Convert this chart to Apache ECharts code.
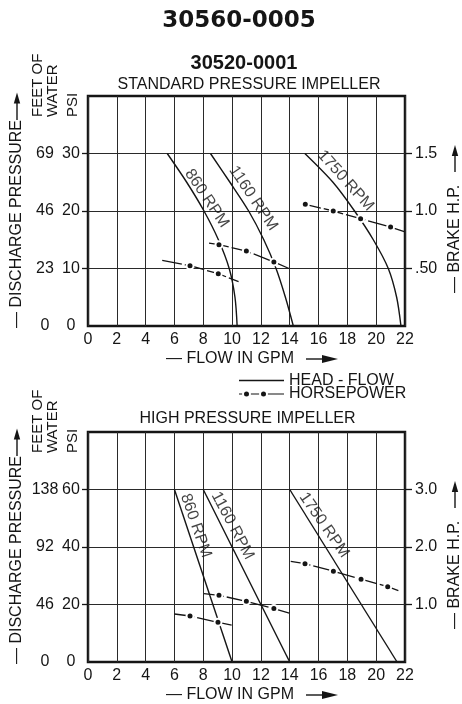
<!DOCTYPE html>
<html>
<head>
<meta charset="utf-8">
<script src="https://cdn.jsdelivr.net/npm/echarts@6/dist/echarts.min.js"></script>
<style>
html,body{margin:0;padding:0;background:#fff;}
#c{width:462px;height:704px;}
</style>
</head>
<body>
<div id="c"></div>
<script>
// ---------- DATA ----------
// Standard pressure impeller (top chart): head-flow curves [GPM, PSI]
const stdHead860  = [[5.5,30],[6.85,25],[8.05,20],[9.05,15],[9.8,10],[10.2,5],[10.35,0]];
const stdHead1160 = [[8.5,30],[9.85,25],[11.15,20],[12.2,15],[13.05,10],[13.7,5],[14.25,0]];
const stdHead1750 = [[15.05,30],[17.0,25],[18.5,20],[19.8,15],[20.84,10],[21.42,5],[21.72,0]];
// horsepower curves [GPM, BHP] (first/last = line ends, middle = dots)
const stdHp860  = [[5.15,0.57],[7.08,0.524],[9.04,0.455],[10.45,0.385]];
const stdHp1160 = [[8.4,0.72],[9.09,0.707],[10.99,0.652],[12.9,0.557],[13.95,0.50]];
const stdHp1750 = [[14.8,1.06],[15.08,1.058],[17.02,1.0],[18.92,0.933],[21.0,0.86],[21.95,0.82]];

// High pressure impeller (bottom chart)
const hiHead860  = [[6.0,60],[10.0,0]];
const hiHead1160 = [[8.0,60],[14.0,0]];
const hiHead1750 = [[14.0,60],[21.45,0]];
const hiHp860  = [[6.0,0.835],[7.08,0.80],[9.02,0.69],[9.97,0.64]];
const hiHp1160 = [[8.05,1.19],[9.09,1.16],[10.99,1.055],[12.9,0.93],[13.97,0.85]];
const hiHp1750 = [[14.07,1.75],[15.06,1.71],[17.03,1.58],[18.95,1.44],[20.8,1.31],[21.54,1.24]];

const rpmNames = ['860 RPM','1160 RPM','1750 RPM'];
const stdRpmLabelAt = [[8.24,22.2],[11.47,22.2],[17.88,25.3]];
const hiRpmLabelAt  = [[7.48,47.4],[10.03,47.4],[16.39,47.6]];

// tick labels
const stdPsiTicks = [0,10,20,30];
const stdFeetLabels = ['0','23','46','69'];
const stdHpTicks = [0.5,1,1.5];
const stdHpLabels = ['.50','1.0','1.5'];
const hiPsiTicks = [0,20,40,60];
const hiFeetLabels = ['0','46','92','138'];
const hiHpTicks = [1,2,3];
const hiHpLabels = ['1.0','2.0','3.0'];

// ---------- STYLE ----------
const FONT = "'Liberation Sans', Arial, sans-serif";
const INK = '#151515';
const GRIDC = '#2a2a2a';

function headSeries(data, gi, smooth){
  return {type:'line', xAxisIndex:gi, yAxisIndex:gi*3, data:data, showSymbol:false,
    smooth:smooth, silent:true, lineStyle:{color:INK,width:1.4}, z:3};
}
function hpSeries(data, gi){
  const last = data.length-1;
  return {type:'line', xAxisIndex:gi, yAxisIndex:gi*3+2,
    data:data.map((p,i)=> (i===0||i===last) ? {value:p, symbol:'none'} : {value:p}),
    symbol:'circle', symbolSize:7, showSymbol:true, showAllSymbol:true, silent:true,
    itemStyle:{color:INK, borderColor:'#fff', borderWidth:2},
    lineStyle:{color:INK,width:1.3,type:[20,3]}, z:5};
}
function labelSeries(pos, angles, gi){
  return {type:'scatter', xAxisIndex:gi, yAxisIndex:gi*3, symbolSize:1, silent:true,
    itemStyle:{color:'rgba(0,0,0,0)'}, z:6,
    data: pos.map((p,i)=>({value:p, name:rpmNames[i],
      label:{show:true, position:'inside', rotate:angles[i], formatter:rpmNames[i],
        fontSize:16, fontFamily:FONT, color:INK}}))};
}

function xAxisCfg(gi){
  return {type:'value', gridIndex:gi, min:0, max:22, interval:2,
    axisLine:{show:false}, axisTick:{show:false},
    axisLabel:{fontSize:16, fontFamily:FONT, color:INK, margin:6},
    splitLine:{show:true, lineStyle:{color:GRIDC, width:1}}};
}
function psiAxis(gi, max, interval, ticks){
  return {type:'value', gridIndex:gi, position:'left', min:0, max:max, interval:interval,
    axisLine:{show:false},
    axisTick:{show:true, customValues:ticks.filter(v=>v>0), length:6, lineStyle:{color:INK,width:1.3}},
    axisLabel:{customValues:ticks, fontSize:16, fontFamily:FONT, color:INK, margin:17, align:'center'},
    splitLine:{show:true, lineStyle:{color:GRIDC, width:1}}};
}
function feetAxis(gi, max, ticks, labels){
  return {type:'value', gridIndex:gi, position:'left', min:0, max:max,
    axisLine:{show:false}, axisTick:{show:false}, splitLine:{show:false},
    axisLabel:{customValues:ticks, formatter:v=>labels[ticks.indexOf(v)],
      fontSize:16, fontFamily:FONT, color:INK, margin:43, align:'center'}};
}
function hpAxis(gi, max, ticks, labels){
  return {type:'value', gridIndex:gi, position:'right', min:0, max:max,
    axisLine:{show:false}, splitLine:{show:false},
    axisTick:{show:true, customValues:ticks, length:7, lineStyle:{color:INK,width:1.3}},
    axisLabel:{customValues:ticks, formatter:v=>labels[ticks.indexOf(v)],
      fontSize:16, fontFamily:FONT, color:INK, margin:10}};
}

function vText(x, y, text, size){
  return {type:'text', x:x, y:y, rotation:Math.PI/2,
    style:{text:text, fontSize:size, fontFamily:FONT, fill:INK, textAlign:'left', textVerticalAlign:'middle', lineHeight:15}};
}
function arrowUp(x, yTip, yBase){
  return [
    {type:'line', shape:{x1:x,y1:yBase,x2:x,y2:yTip+6}, style:{stroke:INK,lineWidth:1.4}},
    {type:'polygon', shape:{points:[[x,yTip],[x-3.2,yTip+11],[x+3.2,yTip+11]]}, style:{fill:INK}}
  ];
}
function arrowRight(xBase, xTip, y){
  return [
    {type:'line', shape:{x1:xBase,y1:y,x2:xTip-6,y2:y}, style:{stroke:INK,lineWidth:1.4}},
    {type:'polygon', shape:{points:[[xTip,y],[xTip-16,y-4],[xTip-16,y+4]]}, style:{fill:INK}}
  ];
}
function chartDecor(dy){
  const g = [];
  g.push(vText(17, 328+dy, '\u2014 DISCHARGE PRESSURE', 16));
  g.push(...arrowUp(17, 92.5+dy, 120+dy));
  g.push(vText(45, 117+dy, 'FEET OF\nWATER', 15));
  g.push(vText(72.5, 117+dy, 'PSI', 15));
  g.push(vText(455, 293+dy, '\u2014 BRAKE H.P.', 16));
  g.push(...arrowUp(455, 145+dy, 172+dy));
  g.push({type:'text', x:166, y:359+dy, style:{text:'\u2014 FLOW IN GPM', fontSize:16, fontFamily:FONT, fill:INK, textAlign:'left', textVerticalAlign:'middle'}});
  g.push(...arrowRight(306, 338, 359+dy));
  return g;
}

const graphics = [
  {type:'text', x:239, y:21, style:{text:'30560-0005', fontSize:23, fontWeight:'bold', fontFamily:"'DejaVu Sans', sans-serif", fill:INK, textAlign:'center', textVerticalAlign:'middle'}},
  {type:'text', x:244, y:63, style:{text:'30520-0001', fontSize:20, fontWeight:'bold', fontFamily:FONT, fill:INK, textAlign:'center', textVerticalAlign:'middle'}},
  {type:'text', x:249, y:85, style:{text:'STANDARD PRESSURE IMPELLER', fontSize:16, fontFamily:FONT, fill:INK, textAlign:'center', textVerticalAlign:'middle'}},
  {type:'text', x:247.5, y:418.5, style:{text:'HIGH PRESSURE IMPELLER', fontSize:16, fontFamily:FONT, fill:INK, textAlign:'center', textVerticalAlign:'middle'}},
  // legend
  {type:'line', shape:{x1:239,y1:380.5,x2:284,y2:380.5}, style:{stroke:INK,lineWidth:1.3}},
  {type:'text', x:289, y:380.5, style:{text:'HEAD - FLOW', fontSize:16, fontFamily:FONT, fill:INK, textAlign:'left', textVerticalAlign:'middle'}},
  {type:'line', shape:{x1:239,y1:394,x2:284,y2:394}, style:{stroke:INK,lineWidth:1.2}},
  {type:'circle', shape:{cx:246.5,cy:394,r:3.5}, style:{fill:INK, stroke:'#fff', lineWidth:2}},
  {type:'circle', shape:{cx:263.5,cy:394,r:3.5}, style:{fill:INK, stroke:'#fff', lineWidth:2}},
  {type:'text', x:289, y:394, style:{text:'HORSEPOWER', fontSize:16, fontFamily:FONT, fill:INK, textAlign:'left', textVerticalAlign:'middle'}},
  ...chartDecor(0),
  ...chartDecor(336)
];

const option = {
  animation:false,
  backgroundColor:'#fff',
  textStyle:{fontFamily:FONT},
  grid:[
    {left:88, top:96, width:317, height:230, show:true, borderColor:INK, borderWidth:2.5, backgroundColor:'transparent', containLabel:false},
    {left:88, top:432, width:317, height:230, show:true, borderColor:INK, borderWidth:2.5, backgroundColor:'transparent', containLabel:false}
  ],
  xAxis:[xAxisCfg(0), xAxisCfg(1)],
  yAxis:[
    psiAxis(0, 40, 5, stdPsiTicks), feetAxis(0, 40, stdPsiTicks, stdFeetLabels), hpAxis(0, 2, stdHpTicks, stdHpLabels),
    psiAxis(1, 80, 10, hiPsiTicks), feetAxis(1, 80, hiPsiTicks, hiFeetLabels), hpAxis(1, 4, hiHpTicks, hiHpLabels)
  ],
  series:[
    headSeries(stdHead860,0,0.3), headSeries(stdHead1160,0,0.3), headSeries(stdHead1750,0,0.3),
    hpSeries(stdHp860,0), hpSeries(stdHp1160,0), hpSeries(stdHp1750,0),
    labelSeries(stdRpmLabelAt, [-56,-56,-48], 0),
    headSeries(hiHead860,1,false), headSeries(hiHead1160,1,false), headSeries(hiHead1750,1,false),
    hpSeries(hiHp860,1), hpSeries(hiHp1160,1), hpSeries(hiHp1750,1),
    labelSeries(hiRpmLabelAt, [-71,-62,-55], 1)
  ],
  graphic:graphics
};

const chart = echarts.init(document.getElementById('c'), null, {renderer:'canvas'});
chart.setOption(option);
</script>
</body>
</html>
